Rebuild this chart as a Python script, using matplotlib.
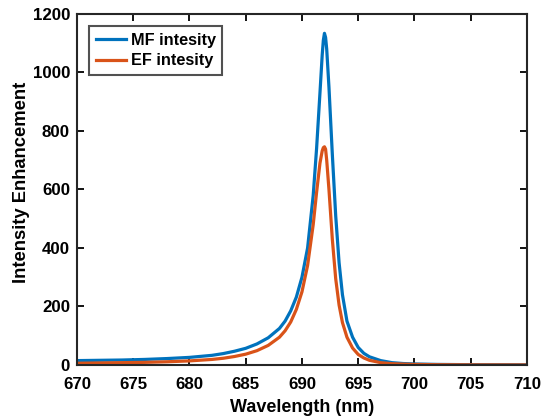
import numpy as np
import matplotlib.pyplot as plt

plt.rcParams['font.family'] = ['Liberation Sans', 'DejaVu Sans']
plt.rcParams['font.weight'] = 'bold'

# wavelength samples (nm)
wl = [670, 672, 674, 676, 678, 680, 682, 683, 684, 685, 686, 687, 688, 688.5,
      689, 689.5, 690, 690.5, 691, 691.3, 691.6, 691.8, 691.9, 692, 692.1,
      692.2, 692.4, 692.7, 693, 693.3, 693.6, 694, 694.5, 695, 695.5, 696,
      697, 698, 699, 700, 702, 705, 710]
mf = [15, 16, 17, 19, 22, 26, 33, 39, 47, 57, 72, 93, 125, 150,
      185, 232, 300, 400, 580, 740, 930, 1060, 1110, 1134, 1120,
      1080, 950, 720, 510, 350, 240, 150, 95, 60, 40, 28,
      15, 8, 5, 3.5, 2, 1, 0.5]
ef = [6, 7, 8, 9, 11, 14, 19, 23, 29, 37, 49, 67, 95, 117,
      147, 190, 250, 340, 480, 590, 690, 732, 743, 746, 738,
      700, 600, 430, 295, 205, 145, 95, 58, 36, 24, 16,
      8, 4.5, 3, 2, 1, 0.5, 0.3]

fig = plt.figure(figsize=(5.41, 4.19), dpi=100)
ax = fig.add_axes([0.1423, 0.1289, 0.974 - 0.1423, 0.9666 - 0.1289])

ax.plot(wl, mf, color='#0072BD', lw=2.3, label='MF intesity')
ax.plot(wl, ef, color='#D95319', lw=2.3, label='EF intesity')

ax.set_xlim(670, 710)
ax.set_ylim(0, 1200)
ax.set_xticks(np.arange(670, 711, 5))
ax.set_yticks(np.arange(0, 1201, 200))
ax.tick_params(direction='in', top=True, right=True, length=5, width=1.3,
               labelsize=12.2)
ax.tick_params(axis='x', pad=8.5)
ax.tick_params(axis='y', pad=5)
for s in ax.spines.values():
    s.set_linewidth(1.5)
    s.set_color('#262626')

ax.set_xlabel('Wavelength (nm)', fontsize=13, fontweight='bold', labelpad=5)
ax.set_ylabel('Intensity Enhancement', fontsize=13.2, fontweight='bold')
ax.yaxis.set_label_coords(-0.104, 0.521)

leg = ax.legend(loc='upper left', fontsize=11.7, frameon=True, fancybox=False,
                edgecolor='#262626', handlelength=1.85, borderpad=0.4,
                labelspacing=0.35, handletextpad=0.3, borderaxespad=0.75)
leg.get_frame().set_linewidth(1.5)
for t in leg.get_texts():
    t.set_fontweight('bold')

fig.savefig('out.png', dpi=100)
